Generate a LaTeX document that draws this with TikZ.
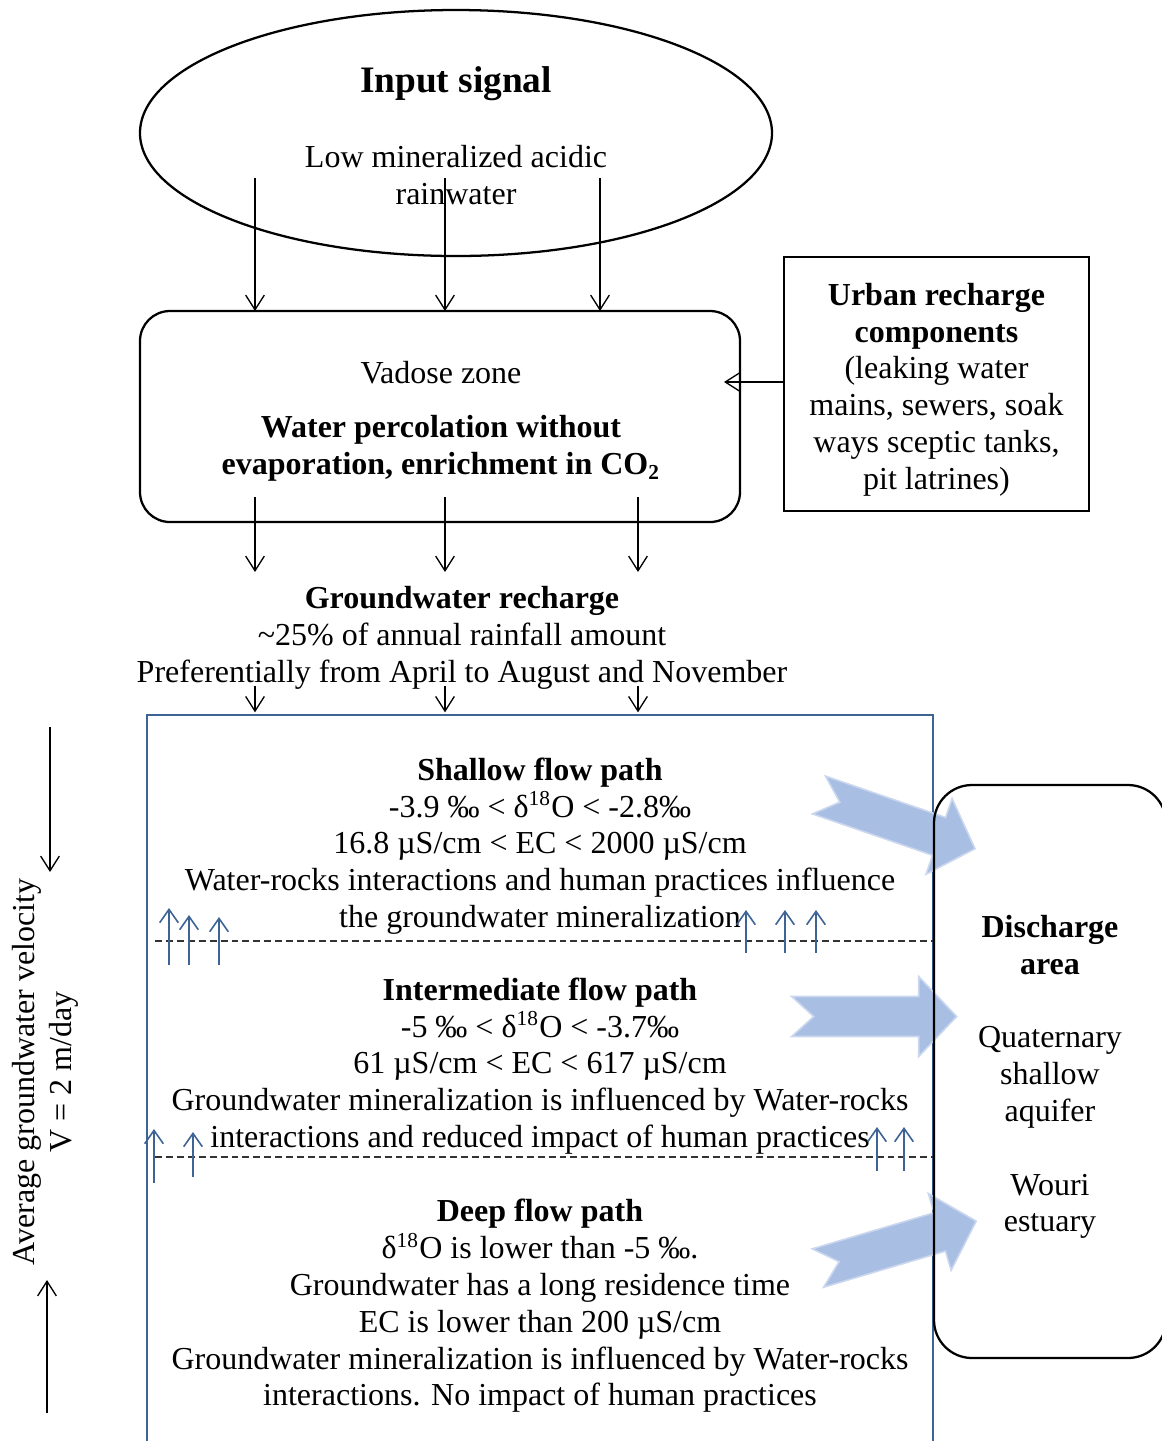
\documentclass[tikz,border=0pt]{standalone}
\usepackage{fontspec}
\setmainfont{Liberation Serif}
\usetikzlibrary{arrows.meta,shapes.geometric}
\definecolor{bluel}{RGB}{62,100,150}
\definecolor{arrfill}{RGB}{169,190,227}
\definecolor{arredge}{RGB}{202,215,238}
\begin{document}
\begin{tikzpicture}[x=0.375pt,y=-0.375pt,
  every node/.style={font=\fontsize{12}{13.8}\selectfont, inner sep=0pt, outer sep=0pt},
  blackbox/.style={draw, line width=0.85pt},
  flow/.style={line width=0.5pt, -{Straight Barb[length=5.5pt,width=7pt]}},
  bluearr/.style={draw=bluel, line width=0.6pt, -{Straight Barb[length=5pt,width=7pt]}},
  dashline/.style={line width=0.5pt, dash pattern=on 2.6pt off 1.5pt, draw=black!80},
  blockarrow/.style={fill=arrfill, draw=arredge, line width=0.6pt, line join=miter}
]
\useasboundingbox (0,0) rectangle (1162,1441);

% column positions
\coordinate (c1) at (255,0);
\coordinate (c2) at (445,0);
\coordinate (c3) at (638,0);
\coordinate (c3t) at (600,0);

% input signal
\node[blackbox, ellipse, minimum width=237pt, minimum height=92.25pt] (input) at (456,133) {};
\node[font=\fontsize{14}{16}\selectfont\bfseries] (title) at (456,84) {Input signal};
\node[align=center] (rain) at (456,175) {Low mineralized acidic\\rainwater};

% vadose zone
\node[blackbox, rounded corners=11.25pt, minimum width=225pt, minimum height=79.125pt] (vadose) at (440,416.5) {};
\node[align=center] (vadosetext) at (441,421.5)
  {Vadose zone\\[6.4pt]\textbf{Water percolation without}\\\textbf{evaporation, enrichment in CO\textsubscript{2}}};

% urban recharge
\node[blackbox, minimum width=114.375pt, minimum height=95.25pt] (urban) at (936.5,384) {};
\node[align=center] (urbantext) at (936.5,389.5)
  {\textbf{Urban recharge}\\\textbf{components}\\(leaking water\\mains, sewers, soak\\ways sceptic tanks,\\pit latrines)};

% arrows input -> vadose
\coordinate (ea) at (0,178);
\draw[flow] (ea -| c1) -- (vadose.north -| c1);
\draw[flow] (ea -| c2) -- (vadose.north -| c2);
\draw[flow] (ea -| c3t) -- (vadose.north -| c3t);

% urban -> vadose
\coordinate (ua) at (0,382);
\draw[flow, shorten >=-6pt] (ua -| urban.west) -- (ua -| vadose.east);

% groundwater recharge text
\node[align=center] (recharge) at (462,638)
  {\textbf{Groundwater recharge}\\\textasciitilde 25\% of annual rainfall amount\\Preferentially from April to August and November};

% vadose -> recharge
\coordinate (vb) at (0,497);
\coordinate (vc) at (0,572);
\draw[flow] (vb -| c1) -- (vc -| c1);
\draw[flow] (vb -| c2) -- (vc -| c2);
\draw[flow] (vb -| c3) -- (vc -| c3);

% aquifer zone
\node[draw=bluel, line width=0.6pt, minimum width=294.75pt, minimum height=279.375pt] (zone) at (540,1087.5) {};

% recharge -> zone
\coordinate (ra) at (0,686);
\draw[flow, shorten >=1pt] (ra -| c1) -- (zone.north -| c1);
\draw[flow, shorten >=1pt] (ra -| c2) -- (zone.north -| c2);
\draw[flow, shorten >=1pt] (ra -| c3) -- (zone.north -| c3);

% flow path texts
\node[align=center] (shallow) at (540,846)
  {\textbf{Shallow flow path}\\-3.9 ‰ < δ\textsuperscript{18}O < -2.8‰\\16.8 µS/cm < EC < 2000 µS/cm\\Water-rocks interactions and human practices influence\\the groundwater mineralization};
\node[align=center] (inter) at (540,1066)
  {\textbf{Intermediate flow path}\\-5 ‰ < δ\textsuperscript{18}O < -3.7‰\\61 µS/cm < EC < 617 µS/cm\\Groundwater mineralization is influenced by Water-rocks\\interactions and reduced impact of human practices};
\node[align=center] (deep) at (540,1306)
  {\textbf{Deep flow path}\\δ\textsuperscript{18}O is lower than -5 ‰.\\Groundwater has a long residence time\\EC is lower than 200 µS/cm\\Groundwater mineralization is influenced by Water-rocks\\interactions. No impact of human practices};

% dashed boundaries
\coordinate (d1) at (155,941);
\coordinate (d2) at (155,1157);
\draw[dashline] (d1) -- (d1 -| zone.east);
\draw[dashline] (d2) -- (d2 -| zone.east);

% small upward arrows
\foreach \x/\ya/\yb [count=\i] in {169/965/908, 189/965/915, 219/965/917, 746/953/910, 785/953/910, 816/953/910,
                                    154/1183/1129, 193/1177/1132, 877/1171/1127, 904/1171/1127} {
  \coordinate (u\i) at (\x,\ya);
  \coordinate (v\i) at (\x,\yb);
  \draw[bluearr] (u\i) -- (v\i);
}

% block arrows
\path[blockarrow, shift={(819,795)}, rotate=-19]
  (0,-20) -- (127,-20) -- (127,-40) -- (165,0) -- (127,40) -- (127,20) -- (0,20) -- (22,0) -- cycle;
\path[blockarrow, shift={(791.7,1016.5)}]
  (0,-20) -- (127,-20) -- (127,-40) -- (165,0) -- (127,40) -- (127,20) -- (0,20) -- (22,0) -- cycle;
\path[blockarrow, shift={(818,1268)}, rotate=16.5]
  (0,-20) -- (127,-20) -- (127,-40) -- (165,0) -- (127,40) -- (127,20) -- (0,20) -- (22,0) -- cycle;

% discharge area
\node[blackbox, rounded corners=14.25pt, minimum width=87pt, minimum height=214.875pt] (discharge) at (1050,1071.5) {};
\node[align=center] (dischargetext) at (1050,1077)
  {\textbf{Discharge}\\\textbf{area}\\[13.8pt]Quaternary\\shallow\\aquifer\\[13.8pt]Wouri\\estuary};

% groundwater velocity
\node[rotate=90, align=center] (vel) at (45,1072) {Average groundwater velocity\\V = 2 m/day};
\coordinate (vd1) at (50,727);
\coordinate (vd2) at (50,872);
\coordinate (vu1) at (47,1413);
\coordinate (vu2) at (47,1280);
\draw[flow] (vd1) -- (vd2);
\draw[flow] (vu1) -- (vu2);
\end{tikzpicture}
\end{document}
